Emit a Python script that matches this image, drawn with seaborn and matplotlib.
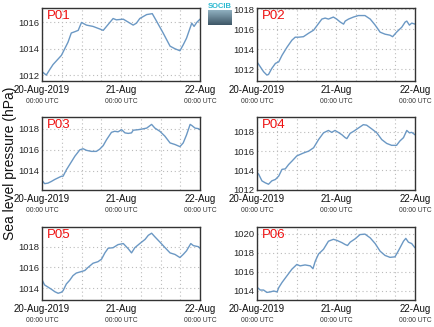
import numpy as np
import pandas as pd
import matplotlib
matplotlib.use("Agg")
import matplotlib.pyplot as plt
import matplotlib.dates as mdates
from matplotlib.ticker import MultipleLocator
import seaborn as sns

sns.set_theme(style="white")
plt.rcParams['font.family'] = ['Liberation Sans', 'DejaVu Sans']

start = "2019-08-20 00:00"
stations = ["P01", "P02", "P03", "P04", "P05", "P06"]

hours_p01 = [0, 1.3, 2.3, 3.35, 5.9, 6.9, 7.9, 8.9, 10, 11, 12, 13.5, 15.5, 17.6, 18.6, 19.6,
             21.6, 22.6, 24.7, 26.7, 27.7, 28.7, 29.7, 31.8, 33.5, 34.8, 36.8, 38.9, 40.4,
             41.9, 42.9, 43.9, 45.5, 46.2, 47, 48]
pres_p01 = [1012.26, 1012.0, 1012.4, 1012.8, 1013.5, 1014.0, 1014.5, 1015.2, 1015.3, 1015.4,
            1016.0, 1015.8, 1015.7, 1015.5, 1015.4, 1015.7, 1016.3, 1016.2, 1016.25, 1015.95,
            1015.8, 1015.95, 1016.3, 1016.6, 1016.67, 1016.1, 1015.2, 1014.2, 1014.0, 1013.85,
            1014.3, 1014.8, 1015.95, 1015.7, 1016.0, 1016.25]

hours_p02 = [0, 1, 2, 3, 3.5, 4.5, 5.6, 6.6, 7.6, 9.1, 10.6, 11.6, 12.6, 14.1, 15.7, 17.2,
             18.7, 19.7, 20.7, 21.7, 23.2, 24.2, 25.3, 26.3, 26.8, 27.8, 29.3, 30.8, 32.8,
             34.4, 35.9, 37.4, 38.9, 40.4, 41.2, 42.4, 44, 45, 45.5, 46.3, 47, 48]
pres_p02 = [1012.75, 1012.26, 1011.77, 1011.44, 1011.5, 1012.1, 1012.6, 1012.75, 1013.4,
            1014.2, 1014.9, 1015.2, 1015.2, 1015.25, 1015.6, 1015.9, 1016.56, 1017.0, 1017.1,
            1017.0, 1017.2, 1017.0, 1016.7, 1016.5, 1016.8, 1017.0, 1017.2, 1017.35, 1017.35,
            1017.0, 1016.4, 1015.7, 1015.5, 1015.4, 1015.25, 1015.7, 1016.2, 1016.7, 1016.8,
            1016.4, 1016.6, 1016.5]

hours_p03 = [0, 0.8, 1.8, 2.8, 3.9, 4.9, 5.9, 6.4, 7.4, 8.4, 10, 11.5, 12.5, 13.5, 15, 16.5,
             17.5, 18.6, 19.6, 21.1, 22.1, 23.1, 24.2, 25.2, 26.2, 27.2, 27.7, 29.2, 30.2,
             31.8, 33.3, 34.3, 35.8, 37.3, 38.9, 40.4, 41.9, 42.9, 43.9, 45, 45.5, 46.5, 47.5, 48]
pres_p03 = [1013.1, 1012.8, 1012.85, 1013.0, 1013.2, 1013.35, 1013.5, 1013.5, 1014.1, 1014.6,
            1015.4, 1016.0, 1016.1, 1015.95, 1015.85, 1015.85, 1016.05, 1016.4, 1016.95,
            1017.65, 1017.75, 1017.7, 1017.9, 1017.6, 1017.55, 1017.6, 1017.85, 1017.9,
            1017.95, 1018.05, 1018.4, 1018.05, 1017.75, 1017.3, 1016.65, 1016.5, 1016.3,
            1016.65, 1017.4, 1018.4, 1018.3, 1018.05, 1018.0, 1017.9]

hours_p04 = [0, 0.5, 1.5, 2.5, 3.5, 4.5, 5.6, 6.6, 7.6, 8.6, 9.6, 10.6, 12.1, 13.1, 14.1,
             15.7, 17.2, 18.7, 20.2, 21.7, 22.7, 23.7, 24.7, 25.8, 26.8, 27.3, 28.3, 29.3,
             30.8, 32.3, 33.3, 34.9, 36.4, 37.9, 39.4, 40.9, 42.4, 43.4, 44.5, 45.5, 46.3, 47, 48]
pres_p04 = [1013.75, 1013.6, 1012.9, 1012.7, 1012.55, 1012.9, 1013.05, 1013.4, 1014.1,
            1014.15, 1014.6, 1014.95, 1015.5, 1015.65, 1015.8, 1016.0, 1016.35, 1017.2,
            1017.9, 1018.15, 1017.95, 1018.15, 1017.95, 1017.7, 1017.4, 1017.3, 1017.85,
            1018.05, 1018.4, 1018.75, 1018.7, 1018.3, 1017.9, 1017.2, 1016.8, 1016.6, 1016.6,
            1017.05, 1017.4, 1018.15, 1017.9, 1017.95, 1017.7]

hours_p05 = [0, 0.8, 1.8, 2.8, 3.9, 4.9, 5.9, 6.4, 7.4, 8.4, 9.4, 10.4, 12, 13, 14, 15.5, 17,
             18.1, 19.1, 20.1, 21.6, 23.1, 24.7, 26.2, 27.2, 28.2, 29.7, 31.3, 32.3, 33.3,
             34.3, 35.8, 37.4, 38.9, 40.4, 41.9, 42.9, 43.9, 45.2, 46, 47.5, 48]
pres_p05 = [1014.8, 1014.3, 1014.1, 1013.9, 1013.65, 1013.5, 1013.6, 1013.75, 1014.4,
            1014.75, 1015.2, 1015.45, 1015.6, 1015.7, 1016.0, 1016.4, 1016.55, 1016.8,
            1017.4, 1017.85, 1017.9, 1018.2, 1018.3, 1017.8, 1017.4, 1017.9, 1018.3, 1018.7,
            1019.1, 1019.3, 1018.95, 1018.45, 1017.9, 1017.4, 1017.25, 1016.95, 1017.25,
            1017.6, 1018.3, 1018.1, 1018.0, 1017.85]

hours_p06 = [0, 1, 2, 3, 4, 5.1, 6.1, 6.6, 7.6, 9.1, 10.6, 12.1, 13.1, 14.6, 16.2, 17,
             17.7, 18.7, 20.2, 21.7, 23.2, 24.2, 25.8, 26.8, 27.5, 28.3, 29.8, 31.3, 32.8,
             34.4, 35.9, 37.4, 38.9, 40.4, 41.9, 42.9, 44.5, 45.2, 46, 47, 48]
pres_p06 = [1014.35, 1014.05, 1014.05, 1013.8, 1013.85, 1013.95, 1013.85, 1014.3, 1014.85,
            1015.55, 1016.25, 1016.75, 1016.6, 1016.7, 1016.6, 1016.3, 1017.1, 1017.85,
            1018.35, 1019.2, 1019.4, 1019.3, 1019.05, 1018.85, 1018.75, 1019.1, 1019.45,
            1019.9, 1019.95, 1019.55, 1018.95, 1018.15, 1017.7, 1017.5, 1017.55, 1018.15,
            1019.2, 1019.5, 1019.1, 1018.95, 1018.5]

ylims = [(1011.55, 1017.1), (1010.85, 1018.1), (1012.2, 1019.1),
         (1011.95, 1019.55), (1012.85, 1019.9), (1013.0, 1020.7)]

series = [(hours_p01, pres_p01), (hours_p02, pres_p02), (hours_p03, pres_p03),
          (hours_p04, pres_p04), (hours_p05, pres_p05), (hours_p06, pres_p06)]

W, H = 434, 327
fig = plt.figure(figsize=(W / 100, H / 100), dpi=100)

lefts = [42, 257]
tops = [8, 117, 227]
aw, ah = 158, 73

t0 = pd.Timestamp(start)
t1 = t0 + pd.Timedelta(hours=48)
main_ticks = [t0, t0 + pd.Timedelta(hours=24), t1]
main_labels = ["20-Aug-2019", "21-Aug", "22-Aug"]

for i, (name, (hrs, vals)) in enumerate(zip(stations, series)):
    r, c = divmod(i, 2)
    ax = fig.add_axes([lefts[c] / W, 1 - (tops[r] + ah) / H, aw / W, ah / H])
    df = pd.DataFrame({"time": t0 + pd.to_timedelta(hrs, unit="h"), "pres": vals})
    sns.lineplot(data=df, x="time", y="pres", ax=ax, color="#6b98c4", linewidth=1.0)
    ax.set_xlim(t0, t1)
    ax.set_ylim(*ylims[i])
    ax.yaxis.set_major_locator(MultipleLocator(2))
    ax.xaxis.set_major_locator(mdates.HourLocator(byhour=[0, 6, 12, 18]))
    ax.xaxis.set_major_formatter(plt.NullFormatter())
    ax.grid(True, color="#bbbbbb", linestyle=(0, (1, 2.5)), linewidth=0.8)
    ax.set_xlabel("")
    ax.set_ylabel("")
    ax.tick_params(axis="both", direction="in", length=2.5, width=0.6, color="#444444",
                   labelsize=6.8, pad=2)
    ax.tick_params(axis="x", pad=0)
    for s in ax.spines.values():
        s.set_color("#333333")
        s.set_linewidth(1.0)
    for tk, lb in zip(main_ticks, main_labels):
        x = mdates.date2num(tk)
        ax.annotate(lb, xy=(x, 0), xycoords=("data", "axes fraction"),
                    xytext=(0, -3), textcoords="offset points",
                    ha="center", va="top", fontsize=7.0, color="#111111")
        ax.annotate("00:00 UTC", xy=(x, 0), xycoords=("data", "axes fraction"),
                    xytext=(0, -12), textcoords="offset points",
                    ha="center", va="top", fontsize=4.9, color="#333333")
    ax.text(0.03, 0.97, name, transform=ax.transAxes, ha="left", va="top",
            fontsize=9.5, color="#ee1111")

fig.text(10 / W, 0.5, "Sea level pressure (hPa)", rotation=90, ha="center", va="center",
         fontsize=10, color="#111111")

# logo
lax = fig.add_axes([208 / W, 1 - 25 / H, 24 / W, 15 / H])
grad = np.linspace(0, 1, 50).reshape(-1, 1)
lax.imshow(grad, aspect="auto", cmap=matplotlib.colors.LinearSegmentedColormap.from_list(
    "g", ["#8fb0c0", "#3e5666"]), extent=[0, 1, 0, 1])
lax.axis("off")
fig.text(220 / W, 1 - 6 / H, "SOCIB", ha="center", va="center", fontsize=5.5,
         color="#2ab8d0", fontweight="bold")

fig.savefig("out.png", dpi=100)
